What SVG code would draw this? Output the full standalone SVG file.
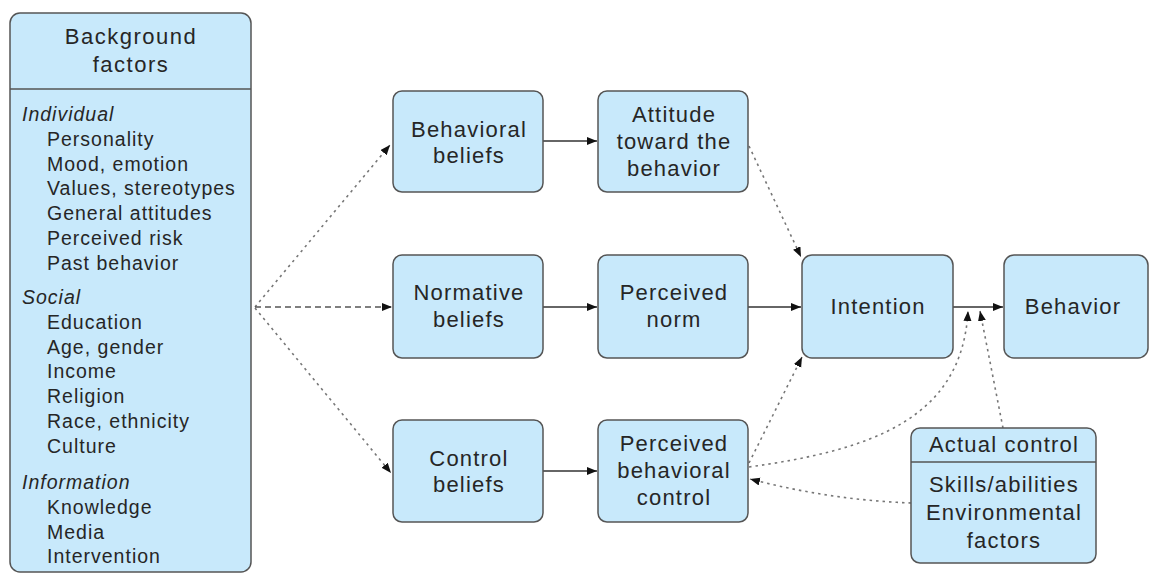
<svg xmlns="http://www.w3.org/2000/svg" width="1150" height="574" viewBox="0 0 1150 574">
<style>
.box{fill:#c8e9fb;stroke:#555;stroke-width:1.5}
.t{font-family:"Liberation Sans",Arial,sans-serif;font-size:22px;letter-spacing:1.2px;fill:#262626;text-anchor:middle}
.l{font-family:"Liberation Sans",Arial,sans-serif;font-size:19.5px;letter-spacing:1px;fill:#262626}
.i{font-style:italic}
.solid{fill:none;stroke:#333;stroke-width:1.6}
.dot{fill:none;stroke:#777;stroke-width:1.6;stroke-dasharray:2.5 4}
.dash{fill:none;stroke:#555;stroke-width:1.6;stroke-dasharray:6 4}
</style>
<defs>
<marker id="ah" markerUnits="userSpaceOnUse" markerWidth="12" markerHeight="10" refX="10" refY="4" orient="auto">
<path d="M0,0 L10,4 L0,8 Z" fill="#111"/>
</marker>
</defs>
<g id="connectors">
<path class="dot" d="M255,307 L390,145" marker-end="url(#ah)"/>
<path class="dash" d="M255,307 L392,307" marker-end="url(#ah)"/>
<path class="dot" d="M255,308 L391,473" marker-end="url(#ah)"/>
<path class="solid" d="M543,141 L597,141" marker-end="url(#ah)"/>
<path class="solid" d="M543,307 L597,307" marker-end="url(#ah)"/>
<path class="solid" d="M543,471 L597,471" marker-end="url(#ah)"/>
<path class="solid" d="M748,307 L801,307" marker-end="url(#ah)"/>
<path class="solid" d="M953,307 L1003,307" marker-end="url(#ah)"/>
<path class="dot" d="M749,146 L801,257" marker-end="url(#ah)"/>
<path class="dot" d="M749,463 L802,357" marker-end="url(#ah)"/>
<path class="dot" d="M749,467 C870,450 962,420 968,311" marker-end="url(#ah)"/>
<path class="dot" d="M1003,428 L980,311" marker-end="url(#ah)"/>
<path class="dot" d="M911,503 Q830,500 750,479" marker-end="url(#ah)"/>
</g>
<g id="background">
<rect class="box" x="10" y="13" width="241" height="559" rx="10"/>
<line x1="10" y1="89" x2="251" y2="89" stroke="#555" stroke-width="1.5"/>
<text class="t" x="131" y="44" style="letter-spacing:1.5px">Background</text>
<text class="t" x="131" y="72" style="letter-spacing:1.5px">factors</text>
<text class="l i" x="22" y="121">Individual</text>
<text class="l" x="47" y="146">Personality</text>
<text class="l" x="47" y="171">Mood, emotion</text>
<text class="l" x="47" y="195">Values, stereotypes</text>
<text class="l" x="47" y="220">General attitudes</text>
<text class="l" x="47" y="245">Perceived risk</text>
<text class="l" x="47" y="270">Past behavior</text>
<text class="l i" x="22" y="304">Social</text>
<text class="l" x="47" y="329">Education</text>
<text class="l" x="47" y="354">Age, gender</text>
<text class="l" x="47" y="378">Income</text>
<text class="l" x="47" y="403">Religion</text>
<text class="l" x="47" y="428">Race, ethnicity</text>
<text class="l" x="47" y="453">Culture</text>
<text class="l i" x="22" y="489">Information</text>
<text class="l" x="47" y="514">Knowledge</text>
<text class="l" x="47" y="539">Media</text>
<text class="l" x="47" y="563">Intervention</text>
</g>
<g id="behavioral-beliefs">
<rect class="box" x="393" y="91" width="150" height="101" rx="9"/>
<text class="t" x="469" y="137">Behavioral</text>
<text class="t" x="469" y="163">beliefs</text>
</g>
<g id="attitude">
<rect class="box" x="598" y="91" width="150" height="101" rx="9"/>
<text class="t" x="674" y="122">Attitude</text>
<text class="t" x="674" y="149">toward the</text>
<text class="t" x="674" y="176">behavior</text>
</g>
<g id="normative-beliefs">
<rect class="box" x="393" y="255" width="150" height="103" rx="9"/>
<text class="t" x="469" y="300">Normative</text>
<text class="t" x="469" y="327">beliefs</text>
</g>
<g id="perceived-norm">
<rect class="box" x="598" y="255" width="150" height="103" rx="9"/>
<text class="t" x="674" y="300">Perceived</text>
<text class="t" x="674" y="327">norm</text>
</g>
<g id="control-beliefs">
<rect class="box" x="393" y="420" width="150" height="102" rx="9"/>
<text class="t" x="469" y="466">Control</text>
<text class="t" x="469" y="492">beliefs</text>
</g>
<g id="perceived-behavioral-control">
<rect class="box" x="598" y="420" width="150" height="102" rx="9"/>
<text class="t" x="674" y="451">Perceived</text>
<text class="t" x="674" y="478">behavioral</text>
<text class="t" x="674" y="505">control</text>
</g>
<g id="intention">
<rect class="box" x="802" y="255" width="151" height="103" rx="10"/>
<text class="t" x="878" y="314">Intention</text>
</g>
<g id="behavior">
<rect class="box" x="1004" y="255" width="144" height="103" rx="10"/>
<text class="t" x="1073" y="314">Behavior</text>
</g>
<g id="actual-control">
<rect class="box" x="911" y="428" width="185" height="135" rx="9"/>
<line x1="911" y1="462" x2="1096" y2="462" stroke="#555" stroke-width="1.5"/>
<text class="t" x="1004" y="452">Actual control</text>
<text class="t" x="1004" y="492">Skills/abilities</text>
<text class="t" x="1004" y="520">Environmental</text>
<text class="t" x="1004" y="548">factors</text>
</g>
</svg>
